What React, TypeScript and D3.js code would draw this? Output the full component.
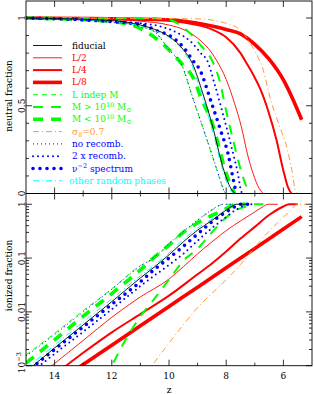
import React from 'react';
import * as d3 from 'd3';

// ---------- top panel: neutral fraction vs z ----------
const ZT_FID = [15, 12, 11, 10.5, 10, 9.5, 9.18, 8.82, 8.47, 8.12, 7.9, 7.76, 7.68];
const NT_FID = [1, 0.985, 0.96, 0.935, 0.895, 0.82, 0.74, 0.571, 0.38, 0.152, 0.05, 0.01, 0];

const ZT_L2 = [15, 12, 11, 10, 9.5, 9, 8.5, 8.35, 8, 7.71, 7.47, 7.25, 7.06, 6.85, 6.7];
const NT_L2 = [1, 0.993, 0.982, 0.96, 0.935, 0.885, 0.8, 0.762, 0.65, 0.514, 0.38, 0.22, 0.114, 0.03, 0];

const ZT_L4 = [15, 11, 10, 9, 8.5, 8, 7.5, 7.29, 7, 6.82, 6.53, 6.25, 6, 5.85, 5.72];
const NT_L4 = [1, 0.993, 0.985, 0.96, 0.935, 0.89, 0.8, 0.743, 0.66, 0.6, 0.47, 0.31, 0.13, 0.04, 0];

const ZT_L8 = [15, 10, 9, 8, 7.5, 7, 6.5, 6, 5.65, 5.36];
const NT_L8 = [1, 0.99, 0.97, 0.935, 0.91, 0.85, 0.765, 0.647, 0.53, 0.42];

const ZT_LINDEP = [15, 12, 11, 10.5, 10, 9.53, 9.18, 8.82, 8.47, 8.24, 8.06, 8.0];
const NT_LINDEP = [1, 0.978, 0.953, 0.922, 0.82, 0.72, 0.548, 0.375, 0.205, 0.09, 0.01, 0];

const ZT_MGT = [15, 10.5, 10, 9.38, 8.92, 8.39, 8.24, 8.0, 7.76, 7.5, 7.29, 7.15];
const NT_MGT = [1, 0.998, 0.99, 0.93, 0.85, 0.72, 0.648, 0.47, 0.305, 0.14, 0.038, 0];

const ZT_MLT = [15, 12, 11, 10.31, 9.5, 9.18, 8.85, 8.49, 8.24, 8.06, 7.76, 7.7];
const NT_MLT = [1, 0.98, 0.94, 0.865, 0.73, 0.667, 0.533, 0.4, 0.257, 0.143, 0.02, 0];

const ZT_S8 = [15, 9, 8, 7.5, 7.03, 6.71, 6.44, 6.15, 5.86, 5.7, 5.57, 5.5];
const NT_S8 = [1, 0.995, 0.97, 0.93, 0.82, 0.705, 0.53, 0.39, 0.25, 0.13, 0.01, 0];

const ZT_NOREC = [15, 12, 11, 10.5, 10, 9.53, 9.18, 8.82, 8.47, 8.24, 8.06, 8.02];
const NT_NOREC = [1, 0.975, 0.95, 0.92, 0.82, 0.724, 0.552, 0.38, 0.21, 0.095, 0.01, 0];

const ZT_2REC = [15, 11, 9.77, 9.24, 8.89, 8.65, 8.4, 8.12, 7.76, 7.6, 7.47, 7.43];
const NT_2REC = [1, 0.97, 0.92, 0.865, 0.8, 0.752, 0.62, 0.457, 0.229, 0.12, 0.01, 0];

const ZT_NU2 = [15, 11, 10.47, 9.88, 9.48, 9.13, 8.94, 8.53, 8.18, 7.94, 7.76, 7.65];
const NT_NU2 = [1, 0.965, 0.93, 0.89, 0.83, 0.75, 0.71, 0.524, 0.352, 0.229, 0.086, 0];

const ZT_RAND = [15, 12, 11, 10.5, 10, 9.5, 9.2, 8.85, 8.5, 8.15, 7.95, 7.8, 7.74];
const NT_RAND = [1, 0.983, 0.955, 0.93, 0.89, 0.81, 0.73, 0.56, 0.37, 0.15, 0.05, 0.01, 0];

// ---------- bottom panel: ionized fraction vs z ----------
const ZB_FID = [15, 14, 13, 12, 11, 10.5, 10, 9.5, 9, 8.5, 8, 7.8, 7.65, 7.35];
const XB_FID = [0.00078, 0.00214, 0.00575, 0.0155, 0.0427, 0.069, 0.115, 0.2, 0.33, 0.5, 0.78, 0.92, 1, 1];

const ZB_L2 = [15, 14, 13, 12, 11, 10, 9.5, 9, 8.5, 8, 7.5, 7, 6.7, 6.53, 6.2];
const XB_L2 = [0.000427, 0.0011, 0.00295, 0.00794, 0.019, 0.0407, 0.069, 0.12, 0.2, 0.324, 0.49, 0.72, 0.91, 1, 1];

const ZB_L4 = [15, 14, 13, 12, 11, 10, 9, 8.5, 8, 7.5, 7, 6.5, 6, 5.8, 5.5];
const XB_L4 = [0.000282, 0.00069, 0.00174, 0.00417, 0.00912, 0.02, 0.05, 0.079, 0.132, 0.23, 0.38, 0.63, 0.91, 1, 1];

const ZB_L8 = [15, 14, 13, 12, 11, 10, 9, 8, 7, 6, 5.36];
const XB_L8 = [0.0002, 0.000457, 0.00105, 0.0024, 0.0055, 0.0126, 0.0288, 0.066, 0.151, 0.347, 0.589];

const ZB_LINDEP = [15, 14, 13, 12, 11, 10.5, 10, 9.5, 9, 8.5, 8.2, 8.1, 7.8];
const XB_LINDEP = [0.00158, 0.00398, 0.0105, 0.0269, 0.0724, 0.1, 0.18, 0.3, 0.5, 0.78, 0.97, 1, 1];

const ZB_MGT = [15, 13, 12.3, 12, 11.5, 11, 10.5, 10, 9.5, 9, 8.5, 8, 7.7, 7.4, 7.1, 7.0, 6.7];
const XB_MGT = [0.00001, 0.0001, 0.0005, 0.001, 0.00316, 0.0083, 0.0178, 0.0398, 0.089, 0.15, 0.3, 0.57, 0.76, 0.88, 0.98, 1, 1];

const ZB_MLT = [15, 14, 13, 12, 11, 10.5, 10, 9.5, 9, 8.5, 8, 7.8, 7.7, 7.3];
const XB_MLT = [0.00112, 0.00302, 0.0083, 0.0219, 0.0603, 0.105, 0.174, 0.3, 0.45, 0.62, 0.83, 0.94, 1, 1];

const ZB_S8 = [15, 12, 11, 10.6, 10, 9, 8, 7.5, 7, 6.5, 6, 5.7, 5.53, 5.2];
const XB_S8 = [0.0000316, 0.000182, 0.000525, 0.001, 0.00263, 0.012, 0.0398, 0.0759, 0.158, 0.316, 0.575, 0.83, 1, 1];

const ZB_NOREC = [15, 14, 13, 12, 11, 10.5, 10, 9.5, 9, 8.5, 8.2, 8.1, 7.8];
const XB_NOREC = [0.00151, 0.0038, 0.01, 0.0263, 0.0708, 0.105, 0.185, 0.31, 0.51, 0.79, 0.97, 1, 1];

const ZB_2REC = [15, 14, 13, 12, 11, 10, 9.5, 9, 8.5, 8, 7.7, 7.5, 7.35, 7.3, 7.0];
const XB_2REC = [0.00063, 0.00166, 0.00427, 0.0112, 0.0302, 0.075, 0.12, 0.21, 0.36, 0.58, 0.76, 0.88, 0.97, 1, 1];

const ZB_NU2 = [15, 14, 13, 12, 11, 10.5, 10, 9.5, 9, 8.5, 8, 7.7, 7.55, 7.2];
const XB_NU2 = [0.00076, 0.002, 0.00525, 0.0138, 0.0363, 0.062, 0.1, 0.165, 0.28, 0.47, 0.72, 0.9, 1, 1];

const ZB_RAND = [15, 14, 13, 12, 11, 10.5, 10, 9.5, 9, 8.5, 8, 7.8, 7.7, 7.4];
const XB_RAND = [0.00089, 0.0024, 0.00646, 0.0174, 0.0468, 0.074, 0.125, 0.22, 0.36, 0.53, 0.8, 0.93, 1, 1];

const Z_TICKS = [14, 12, 10, 8, 6];
const NEUTRAL_TICKS = [0, 0.5, 1];
const NEUTRAL_TICK_LABELS = ['0', '0.5', '1'];
const ION_TICKS = [1, 0.1, 0.01, 0.001];

// ---------- styles ----------
const GREEN = '#00ff00';
const RED = '#ff0000';
const BLUE = '#0000ff';
const ORANGE = '#ff9933';
const CYAN = '#00ffff';

type Style = { color: string; width: number; dash?: string; round?: boolean };
type Series = { key: string; zt: number[]; nt: number[]; zb: number[]; xb: number[]; style: Style; text: string };

const SERIES: Series[] = [
  { key: 'fid', zt: ZT_FID, nt: NT_FID, zb: ZB_FID, xb: XB_FID, style: { color: '#000', width: 0.9 }, text: '#000' },
  { key: 'l2', zt: ZT_L2, nt: NT_L2, zb: ZB_L2, xb: XB_L2, style: { color: RED, width: 0.9 }, text: RED },
  { key: 'l4', zt: ZT_L4, nt: NT_L4, zb: ZB_L4, xb: XB_L4, style: { color: RED, width: 2 }, text: RED },
  { key: 'l8', zt: ZT_L8, nt: NT_L8, zb: ZB_L8, xb: XB_L8, style: { color: RED, width: 3.6 }, text: RED },
  { key: 'lindep', zt: ZT_LINDEP, nt: NT_LINDEP, zb: ZB_LINDEP, xb: XB_LINDEP, style: { color: GREEN, width: 1, dash: '5 4' }, text: GREEN },
  { key: 'mgt', zt: ZT_MGT, nt: NT_MGT, zb: ZB_MGT, xb: XB_MGT, style: { color: GREEN, width: 2, dash: '10 8' }, text: GREEN },
  { key: 'mlt', zt: ZT_MLT, nt: NT_MLT, zb: ZB_MLT, xb: XB_MLT, style: { color: GREEN, width: 3.6, dash: '10 8' }, text: GREEN },
  { key: 's8', zt: ZT_S8, nt: NT_S8, zb: ZB_S8, xb: XB_S8, style: { color: ORANGE, width: 1, dash: '6 3 1 3' }, text: ORANGE },
  { key: 'norec', zt: ZT_NOREC, nt: NT_NOREC, zb: ZB_NOREC, xb: XB_NOREC, style: { color: BLUE, width: 1, dash: '1 3' }, text: BLUE },
  { key: '2rec', zt: ZT_2REC, nt: NT_2REC, zb: ZB_2REC, xb: XB_2REC, style: { color: BLUE, width: 2, dash: '0 5', round: true }, text: BLUE },
  { key: 'nu2', zt: ZT_NU2, nt: NT_NU2, zb: ZB_NU2, xb: XB_NU2, style: { color: BLUE, width: 3.6, dash: '0 7', round: true }, text: BLUE },
  { key: 'rand', zt: ZT_RAND, nt: NT_RAND, zb: ZB_RAND, xb: XB_RAND, style: { color: CYAN, width: 1, dash: '6 3 1 3' }, text: CYAN },
];

const W = 314;
const H = 394;
const X0 = 26;
const X1 = 312;
const TOP_Y0 = 1;
const MID_Y = 193.5;
const BOT_Y1 = 365.7;

const FONT = '"DejaVu Serif", serif';

export default function App() {
  const x = d3.scaleLinear().domain([15, 5]).range([X0, X1]);
  const yTop = d3.scaleLinear().domain([0, (MID_Y - TOP_Y0) / 175.5]).range([MID_Y, TOP_Y0]);
  const yBot = d3.scaleLog().domain([1e-3, Math.pow(10, 0.2)]).range([BOT_Y1, MID_Y]);

  const lineTop = (s: Series) =>
    d3
      .line<number>()
      .x((_, i) => x(s.zt[i]))
      .y((d) => yTop(d))
      .curve(d3.curveMonotoneX)(s.nt) || '';
  const lineBot = (s: Series) =>
    d3
      .line<number>()
      .x((_, i) => x(s.zb[i]))
      .y((d) => yBot(Math.max(d, 1e-7)))
      .curve(d3.curveMonotoneX)(s.xb) || '';

  const strokeProps = (st: Style) => ({
    fill: 'none',
    stroke: st.color,
    strokeWidth: st.width,
    strokeDasharray: st.dash,
    strokeLinecap: (st.round ? 'round' : 'butt') as any,
  });

  const drawOrder = [...SERIES.slice(1), SERIES[0]];

  const zMinor = d3.range(6, 15, 1).filter((v) => !Z_TICKS.includes(v));
  const nMinor = d3.range(1, 10).map((k) => k / 10).filter((v) => v !== 0.5);
  const ionMinor: number[] = [];
  [-3, -2, -1].forEach((d) => {
    for (let k = 2; k <= 9; k++) ionMinor.push(k * Math.pow(10, d));
  });

  const MAJ = 6;
  const MIN = 3;
  const tickStroke = { stroke: '#000', strokeWidth: 0.8 };

  const legendY = (i: number) => 45.5 + 12.3 * i;

  const sup = (t: string) => (
    <tspan dy={-3.5} fontSize={6.5}>
      {t}
    </tspan>
  );

  const legendLabel = (key: string) => {
    switch (key) {
      case 'fid':
        return 'fiducial';
      case 'l2':
        return 'L/2';
      case 'l4':
        return 'L/4';
      case 'l8':
        return 'L/8';
      case 'lindep':
        return 'L indep M';
      case 'mgt':
      case 'mlt':
        return (
          <>
            {key === 'mgt' ? 'M > 10' : 'M < 10'}
            {sup('10')}
            <tspan dy={3.5}> M</tspan>
            <tspan dy={2} fontSize={6.5}>⊙</tspan>
          </>
        );
      case 's8':
        return (
          <>
            σ<tspan dy={2} fontSize={6.5}>8</tspan>
            <tspan dy={-2}>=0.7</tspan>
          </>
        );
      case 'norec':
        return 'no recomb.';
      case '2rec':
        return '2 x recomb.';
      case 'nu2':
        return (
          <>
            ν{sup('−2')}
            <tspan dy={3.5}> spectrum</tspan>
          </>
        );
      case 'rand':
        return 'other random phases';
    }
    return '';
  };

  return (
    <svg
      width={W}
      height={H}
      style={{ position: 'absolute', left: 0, top: 0, background: '#fff' }}
      fontFamily={FONT}
    >
      <defs>
        <clipPath id="clipTop">
          <rect x={X0} y={TOP_Y0} width={X1 - X0} height={MID_Y - TOP_Y0} />
        </clipPath>
        <clipPath id="clipBot">
          <rect x={X0} y={MID_Y} width={X1 - X0} height={BOT_Y1 - MID_Y} />
        </clipPath>
      </defs>

      {/* curves */}
      <g clipPath="url(#clipTop)">
        {drawOrder.map((s) => (
          <path key={'t' + s.key} d={lineTop(s)} {...strokeProps(s.style)} />
        ))}
      </g>
      <g clipPath="url(#clipBot)">
        {drawOrder.map((s) => (
          <path key={'b' + s.key} d={lineBot(s)} {...strokeProps(s.style)} />
        ))}
      </g>

      {/* legend */}
      <g fontSize={9}>
        {SERIES.map((s, i) => (
          <g key={'lg' + s.key}>
            <line x1={33} x2={62} y1={legendY(i)} y2={legendY(i)} {...strokeProps(s.style)} />
            <text x={s.key === 'rand' ? 69 : 72} y={legendY(i) + 3} fill={s.text}>
              {legendLabel(s.key)}
            </text>
          </g>
        ))}
      </g>

      {/* frames */}
      <rect x={X0} y={TOP_Y0} width={X1 - X0} height={MID_Y - TOP_Y0} fill="none" stroke="#000" strokeWidth={0.9} />
      <rect x={X0} y={MID_Y} width={X1 - X0} height={BOT_Y1 - MID_Y} fill="none" stroke="#000" strokeWidth={0.9} />

      {/* x ticks on all horizontal edges */}
      {[TOP_Y0, MID_Y, BOT_Y1].map((yy, k) => (
        <g key={'xt' + k}>
          {Z_TICKS.map((v) => (
            <g key={'M' + v}>
              {k > 0 && <line x1={x(v)} x2={x(v)} y1={yy} y2={yy - MAJ} {...tickStroke} />}
              {k < 2 && <line x1={x(v)} x2={x(v)} y1={yy} y2={yy + MAJ} {...tickStroke} />}
            </g>
          ))}
          {zMinor.map((v) => (
            <g key={'m' + v}>
              {k > 0 && <line x1={x(v)} x2={x(v)} y1={yy} y2={yy - MIN} {...tickStroke} />}
              {k < 2 && <line x1={x(v)} x2={x(v)} y1={yy} y2={yy + MIN} {...tickStroke} />}
            </g>
          ))}
        </g>
      ))}

      {/* top panel y ticks */}
      {NEUTRAL_TICKS.map((v) => (
        <g key={'ny' + v}>
          <line x1={X0} x2={X0 + MAJ} y1={yTop(v)} y2={yTop(v)} {...tickStroke} />
          <line x1={X1} x2={X1 - MAJ} y1={yTop(v)} y2={yTop(v)} {...tickStroke} />
        </g>
      ))}
      {nMinor.map((v) => (
        <g key={'nm' + v}>
          <line x1={X0} x2={X0 + MIN} y1={yTop(v)} y2={yTop(v)} {...tickStroke} />
          <line x1={X1} x2={X1 - MIN} y1={yTop(v)} y2={yTop(v)} {...tickStroke} />
        </g>
      ))}

      {/* bottom panel y ticks */}
      {ION_TICKS.map((v) => (
        <g key={'iy' + v}>
          <line x1={X0} x2={X0 + MAJ} y1={yBot(v)} y2={yBot(v)} {...tickStroke} />
          <line x1={X1} x2={X1 - MAJ} y1={yBot(v)} y2={yBot(v)} {...tickStroke} />
        </g>
      ))}
      {ionMinor.map((v) => (
        <g key={'im' + v}>
          <line x1={X0} x2={X0 + MIN} y1={yBot(v)} y2={yBot(v)} {...tickStroke} />
          <line x1={X1} x2={X1 - MIN} y1={yBot(v)} y2={yBot(v)} {...tickStroke} />
        </g>
      ))}

      {/* y tick labels (rotated) */}
      <g fontSize={9} fill="#000">
        {NEUTRAL_TICKS.map((v, i) => (
          <text key={'nl' + v} transform={`translate(24.5,${yTop(v)}) rotate(-90)`} textAnchor="middle">
            {NEUTRAL_TICK_LABELS[i]}
          </text>
        ))}
        {ION_TICKS.map((v) => (
          <text
            key={'il' + v}
            transform={`translate(24.5,${yBot(v) - (v === 0.001 ? 3 : 0)}) rotate(-90)`}
            textAnchor="middle"
          >
            {v === 0.001 ? (
              <>
                10<tspan dy={-3.5} fontSize={6.5}>−3</tspan>
              </>
            ) : (
              d3.format('~g')(v)
            )}
          </text>
        ))}
      </g>

      {/* x tick labels */}
      <g fontSize={9} fill="#000" textAnchor="middle">
        {Z_TICKS.map((v) => (
          <text key={'xl' + v} x={x(v)} y={378.5}>
            {v}
          </text>
        ))}
        <text x={169} y={393}>z</text>
      </g>

      {/* axis titles */}
      <g fontSize={9} fill="#000" textAnchor="middle">
        <text transform={`translate(11.5,96) rotate(-90)`}>neutral fraction</text>
        <text transform={`translate(11.5,275.5) rotate(-90)`}>ionized fraction</text>
      </g>
    </svg>
  );
}
